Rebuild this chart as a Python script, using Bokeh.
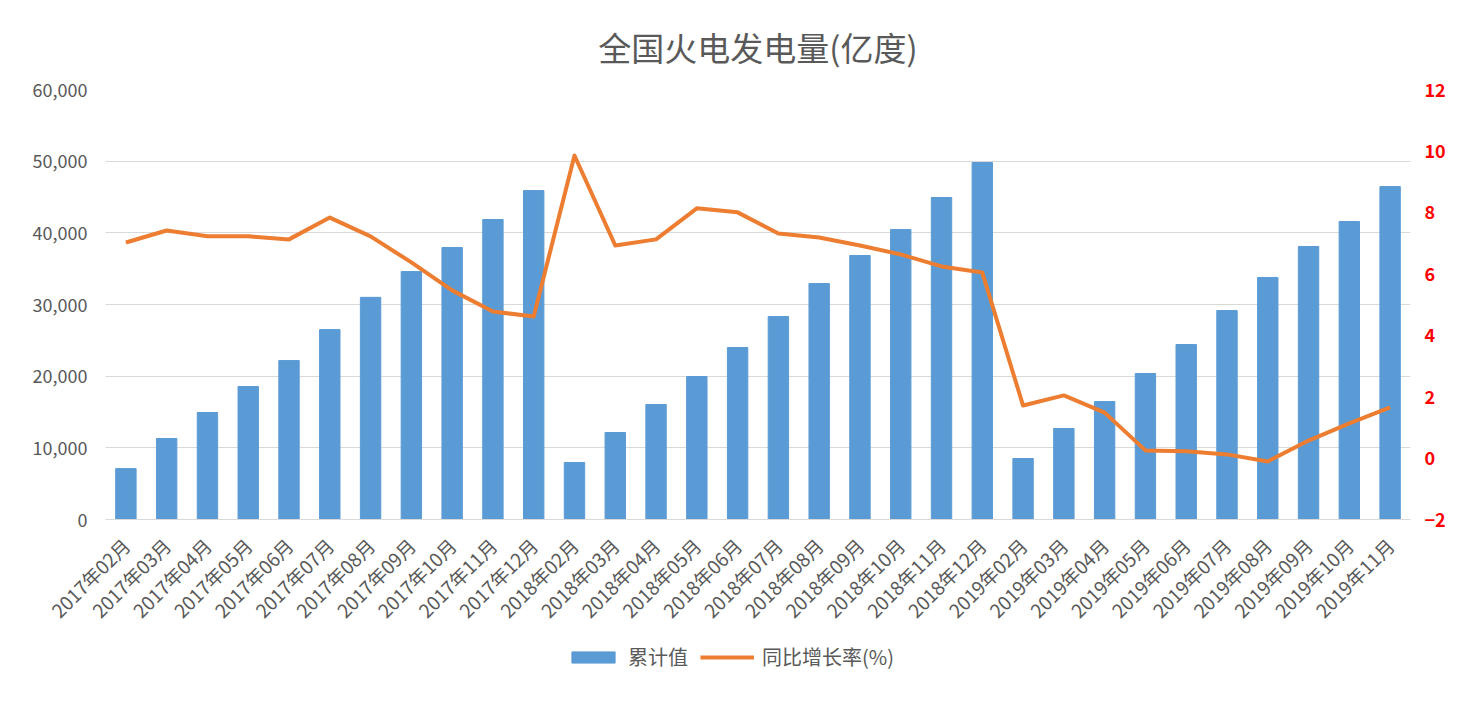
import math
from bokeh.plotting import figure
from bokeh.layouts import column
from bokeh.models import (Range1d, LinearAxis, FixedTicker, NumeralTickFormatter,
                          Legend, LegendItem, FactorRange, ColumnDataSource)
from bokeh.embed import file_html
from bokeh.resources import INLINE

months = [
    "2017年02月", "2017年03月", "2017年04月", "2017年05月", "2017年06月", "2017年07月",
    "2017年08月", "2017年09月", "2017年10月", "2017年11月", "2017年12月",
    "2018年02月", "2018年03月", "2018年04月", "2018年05月", "2018年06月", "2018年07月",
    "2018年08月", "2018年09月", "2018年10月", "2018年11月", "2018年12月",
    "2019年02月", "2019年03月", "2019年04月", "2019年05月", "2019年06月", "2019年07月",
    "2019年08月", "2019年09月", "2019年10月", "2019年11月",
]
cumulative = [
    7100, 11300, 14930, 18560, 22180, 26500, 31000, 34600, 37950, 41860, 45900,
    7950, 12140, 16050, 19950, 24000, 28320, 32930, 36840, 40460, 44930, 49810,
    8510, 12700, 16460, 20370, 24420, 29160, 33770, 38090, 41580, 46460,
]
growth = [
    7.02, 7.41, 7.22, 7.22, 7.12, 7.83, 7.22, 6.37, 5.46, 4.77, 4.61,
    9.85, 6.92, 7.12, 8.13, 8.00, 7.31, 7.18, 6.92, 6.63, 6.24, 6.04,
    1.71, 2.04, 1.48, 0.25, 0.22, 0.12, -0.11, 0.57, 1.13, 1.65,
]
left_ticks = [0, 10000, 20000, 30000, 40000, 50000, 60000]
right_ticks = [-2, 0, 2, 4, 6, 8, 10, 12]
series_names = ["累计值", "同比增长率(%)"]

FONT = "Noto Sans CJK SC"
GRAY = "#595959"
BAR_COLOR = "#5B9BD5"
LINE_COLOR = "#ED7D31"

src = ColumnDataSource(dict(month=months, value=cumulative, growth=growth))

p = figure(width=1468, height=640, x_range=FactorRange(*months),
           y_range=Range1d(0, 60000), output_backend="svg", toolbar_location=None,
           min_border_left=105, min_border_right=58, min_border_top=89,
           min_border_bottom=121, background_fill_color="white")
p.outline_line_color = None
p.extra_y_ranges = {"pct": Range1d(-2, 12)}

p.title.text = "全国火电发电量(亿度)"
p.title.align = "center"
p.title.text_font = FONT
p.title.text_font_size = "33px"
p.title.text_font_style = "normal"
p.title.text_color = GRAY
p.title.standoff = 38
p.title.offset = 7

p.vbar(x="month", top="value", width=0.5, source=src, color=BAR_COLOR)
p.line(x="month", y="growth", source=src, y_range_name="pct",
       line_width=4, color=LINE_COLOR, line_join="round")

# left axis
ya = p.yaxis[0]
ya.ticker = FixedTicker(ticks=left_ticks)
ya.formatter = NumeralTickFormatter(format="0,0")
ya.axis_line_color = None
ya.major_tick_line_color = None
ya.minor_tick_line_color = None
ya.major_label_text_font = FONT
ya.major_label_text_font_size = "18px"
ya.major_label_text_color = GRAY
ya.major_label_standoff = 12

# right axis
ra = LinearAxis(y_range_name="pct", ticker=FixedTicker(ticks=right_ticks))
ra.axis_line_color = None
ra.major_tick_line_color = None
ra.minor_tick_line_color = None
ra.major_label_text_font = FONT
ra.major_label_text_font_size = "18px"
ra.major_label_text_font_style = "bold"
ra.major_label_text_color = "#FF0000"
ra.major_label_standoff = 8
p.add_layout(ra, "right")

# x axis
xa = p.xaxis[0]
xa.major_label_orientation = math.pi / 4
xa.major_label_text_font = FONT
xa.major_label_text_font_size = "19px"
xa.major_label_text_color = GRAY
xa.axis_line_color = "#D9D9D9"
xa.major_tick_line_color = None
xa.minor_tick_line_color = None
xa.major_label_standoff = 16

p.xgrid.grid_line_color = None
p.ygrid.grid_line_color = "#D9D9D9"
p.ygrid.grid_line_width = 1

# legend strip below the chart (frame aligned with main chart's frame)
lg = figure(width=1468, height=65, output_backend="svg", toolbar_location=None,
            x_range=Range1d(0, 1), y_range=Range1d(0, 1),
            x_axis_location=None, y_axis_location=None, min_border=0)
lg.outline_line_color = None
lg.xgrid.grid_line_color = None
lg.ygrid.grid_line_color = None
r_bar = lg.vbar(x=[0.5], top=[-5], bottom=[-6], width=0.5, color=BAR_COLOR)
r_line = lg.line(x=[0.2, 0.8], y=[-5, -5], line_width=4, color=LINE_COLOR)
legend = Legend(items=[LegendItem(label=series_names[0], renderers=[r_bar]),
                       LegendItem(label=series_names[1], renderers=[r_line])],
                orientation="horizontal", location=(461, 34),
                label_text_font=FONT, label_text_font_size="20px",
                label_text_color=GRAY, glyph_width=54, glyph_height=14,
                spacing=12, label_standoff=8, border_line_color=None,
                background_fill_alpha=0, padding=6, margin=0)
lg.add_layout(legend, "center")

layout = column(p, lg, spacing=0)
open("out.html", "w").write(file_html(layout, INLINE))
